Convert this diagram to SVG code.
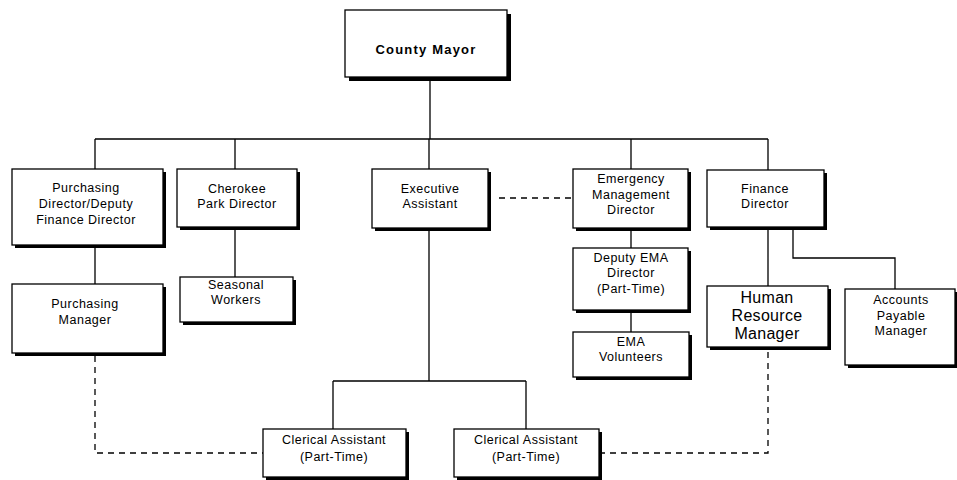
<svg xmlns="http://www.w3.org/2000/svg" width="957" height="480" viewBox="0 0 957 480">
<defs>
<style>
.sh{fill:#000}
.bx{fill:#fff;stroke:#000;stroke-width:1.3}
.t{font-family:"Liberation Sans",Arial,sans-serif;font-size:12.5px;letter-spacing:0.5px;text-anchor:middle;fill:#000}
.big{font-size:16px;letter-spacing:0.3px}
.bold{font-weight:bold;font-size:13px;letter-spacing:1.2px}
.ln{fill:none;stroke:#000;stroke-width:1.3}
.ds{fill:none;stroke:#000;stroke-width:1.3;stroke-dasharray:6,5}
</style>
</defs>
<rect width="957" height="480" fill="#fff"/>
<g id="connectors">
<path class="ln" d="M430,77 V139 M95,139 H768 M95,139 V169 M235,139 V169 M429,139 V169 M631,139 V169 M768,139 V170"/>
<path class="ln" d="M95,245 V284 M235,227 V277 M631,228 V248 M631,310 V332"/>
<path class="ln" d="M768,227 V286 M793,227 V258 H895 V289"/>
<path class="ln" d="M429,228 V381 M333,381 H526 M333,381 V429 M526,381 V429"/>
<path class="ds" d="M499,198 H573"/>
<path class="ds" d="M95,356 V453 H263"/>
<path class="ds" d="M768,352 V453 H599"/>
</g>
<g id="mayor">
<rect class="sh" x="349" y="14" width="162" height="67"/>
<rect class="bx" x="345" y="10" width="162" height="67"/>
<text class="t bold" x="426" y="54">County Mayor</text>
</g>
<g id="purchasing-director">
<rect class="sh" x="15" y="172" width="151" height="76"/>
<rect class="bx" x="12" y="169" width="151" height="76"/>
<text class="t" x="86" y="192">Purchasing</text>
<text class="t" x="86" y="208">Director/Deputy</text>
<text class="t" x="86" y="224">Finance Director</text>
</g>
<g id="cherokee">
<rect class="sh" x="180" y="172" width="120" height="58"/>
<rect class="bx" x="177" y="169" width="120" height="58"/>
<text class="t" x="237" y="193">Cherokee</text>
<text class="t" x="237" y="208">Park Director</text>
</g>
<g id="purchasing-manager">
<rect class="sh" x="15" y="287" width="151" height="69"/>
<rect class="bx" x="12" y="284" width="151" height="69"/>
<text class="t" x="85" y="308">Purchasing</text>
<text class="t" x="85" y="324">Manager</text>
</g>
<g id="seasonal">
<rect class="sh" x="183" y="280" width="113" height="45"/>
<rect class="bx" x="180" y="277" width="113" height="45"/>
<text class="t" x="236" y="289">Seasonal</text>
<text class="t" x="236" y="304">Workers</text>
</g>
<g id="executive-assistant">
<rect class="sh" x="375" y="172" width="116" height="59"/>
<rect class="bx" x="372" y="169" width="116" height="59"/>
<text class="t" x="430" y="193">Executive</text>
<text class="t" x="430" y="208">Assistant</text>
</g>
<g id="emergency">
<rect class="sh" x="576" y="172" width="115" height="59"/>
<rect class="bx" x="573" y="169" width="115" height="59"/>
<text class="t" x="631" y="183">Emergency</text>
<text class="t" x="631" y="199">Management</text>
<text class="t" x="631" y="214">Director</text>
</g>
<g id="deputy-ema">
<rect class="sh" x="576" y="251" width="115" height="62"/>
<rect class="bx" x="573" y="248" width="115" height="62"/>
<text class="t" x="631" y="262">Deputy EMA</text>
<text class="t" x="631" y="277">Director</text>
<text class="t" x="631" y="293">(Part-Time)</text>
</g>
<g id="ema-volunteers">
<rect class="sh" x="576" y="335" width="116" height="45"/>
<rect class="bx" x="573" y="332" width="116" height="45"/>
<text class="t" x="631" y="346">EMA</text>
<text class="t" x="631" y="361">Volunteers</text>
</g>
<g id="finance-director">
<rect class="sh" x="710" y="173" width="117" height="57"/>
<rect class="bx" x="707" y="170" width="117" height="57"/>
<text class="t" x="765" y="193">Finance</text>
<text class="t" x="765" y="208">Director</text>
</g>
<g id="hr-manager">
<rect class="sh" x="710" y="289" width="121" height="61"/>
<rect class="bx" x="707" y="286" width="121" height="61"/>
<text class="t big" x="767" y="303">Human</text>
<text class="t big" x="767" y="321">Resource</text>
<text class="t big" x="767" y="339">Manager</text>
</g>
<g id="accounts-payable">
<rect class="sh" x="848" y="292" width="110" height="76"/>
<rect class="bx" x="845" y="289" width="110" height="76"/>
<text class="t" x="901" y="304">Accounts</text>
<text class="t" x="901" y="320">Payable</text>
<text class="t" x="901" y="335">Manager</text>
</g>
<g id="clerical-1">
<rect class="sh" x="266" y="432" width="143" height="48"/>
<rect class="bx" x="263" y="429" width="143" height="48"/>
<text class="t" x="334" y="444">Clerical Assistant</text>
<text class="t" x="334" y="461">(Part-Time)</text>
</g>
<g id="clerical-2">
<rect class="sh" x="457" y="432" width="145" height="48"/>
<rect class="bx" x="454" y="429" width="145" height="48"/>
<text class="t" x="526" y="444">Clerical Assistant</text>
<text class="t" x="526" y="461">(Part-Time)</text>
</g>
</svg>
